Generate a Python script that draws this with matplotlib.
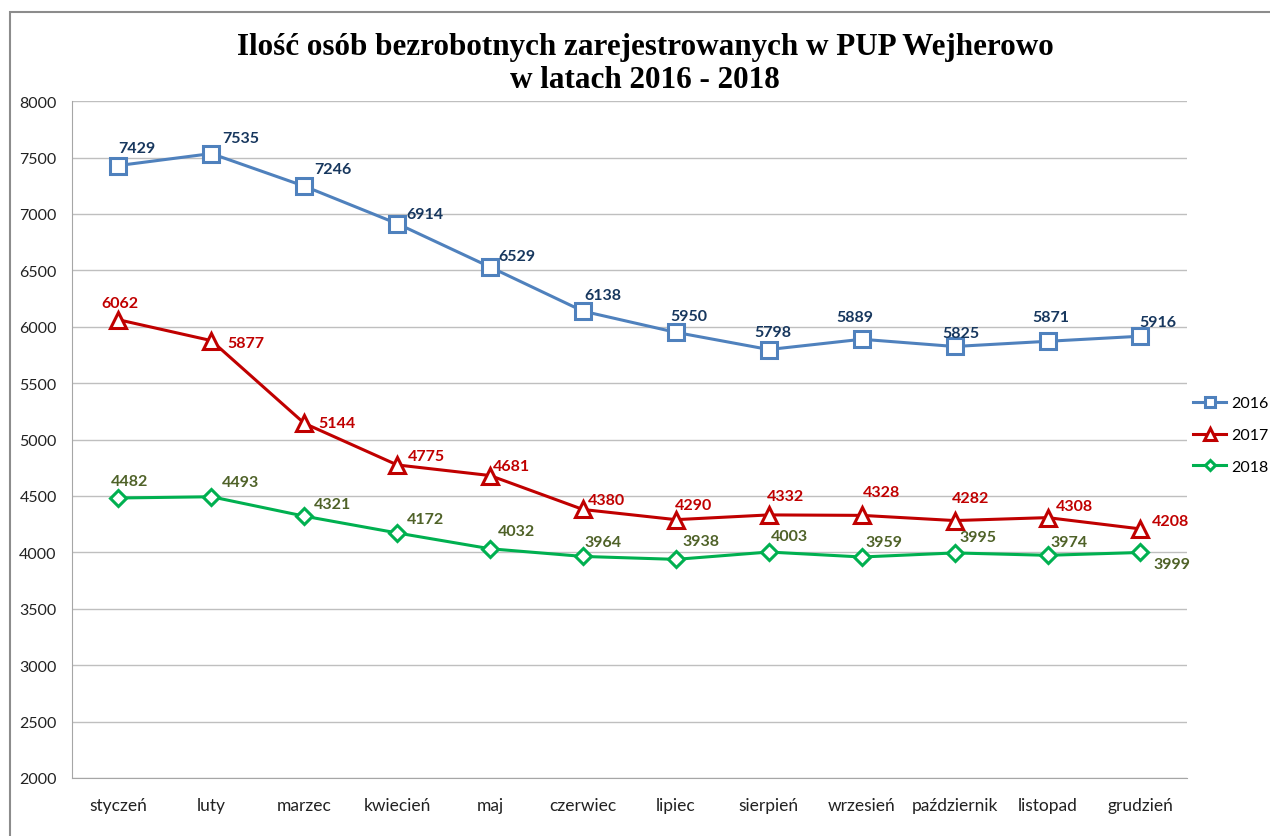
import matplotlib
matplotlib.use("Agg")
import matplotlib.pyplot as plt
from matplotlib.patches import Rectangle

months = ["styczeń", "luty", "marzec", "kwiecień", "maj", "czerwiec",
          "lipiec", "sierpień", "wrzesień", "październik", "listopad", "grudzień"]
y2016 = [7429, 7535, 7246, 6914, 6529, 6138, 5950, 5798, 5889, 5825, 5871, 5916]
y2017 = [6062, 5877, 5144, 4775, 4681, 4380, 4290, 4332, 4328, 4282, 4308, 4208]
y2018 = [4482, 4493, 4321, 4172, 4032, 3964, 3938, 4003, 3959, 3995, 3974, 3999]

# label offsets in pixels (dx, dy up)
off2016 = [(18, 18), (29, 16), (29, 17), (28, 10), (27, 11), (20, 16),
           (13, 16), (4, 18), (-7, 22), (6, 13), (3, 24), (17, 14)]
off2017 = [(1, 17), (34, -2), (33, 0), (29, 9), (21, 10), (23, 9),
           (18, 15), (17, 19), (20, 23), (16, 23), (27, 12), (30, 8)]
off2018 = [(11, 17), (29, 15), (28, 12), (28, 14), (26, 18), (20, 14),
           (25, 18), (21, 16), (22, 15), (23, 16), (21, 13), (31, -12)]

series = [
    ("2016", y2016, off2016, "#4F81BD", "#17375E", "s", 11),
    ("2017", y2017, off2017, "#C00000", "#C00000", "^", 12),
    ("2018", y2018, off2018, "#00B050", "#4F6228", "D", 8),
]

plt.rcParams["font.family"] = ["Lato", "DejaVu Sans"]

fig = plt.figure(figsize=(12.7, 8.37), dpi=100)
ax = fig.add_axes([0.0567, 0.0693, 0.8779, 0.8087])

x = list(range(len(months)))
pt = 72 / 100  # pixels -> points
for name, vals, offs, col, lcol, mk, ms in series:
    ax.plot(x, vals, color=col, lw=2.2, marker=mk, markersize=ms,
            markerfacecolor="white", markeredgecolor=col, markeredgewidth=2.2,
            label=name, zorder=3)
    for xi, v, (dx, dy) in zip(x, vals, offs):
        ax.annotate(str(v), (xi, v), xytext=(dx * pt, dy * pt),
                    textcoords="offset points", ha="center", va="center",
                    fontsize=11.5, fontweight="bold", color=lcol, zorder=4)

ax.set_xlim(-0.5, 11.5)
ax.set_ylim(2000, 8000)
ax.set_yticks(range(2000, 8001, 500))
ax.set_xticks(x)
ax.set_xticklabels(months)
ax.tick_params(axis="both", length=0, colors="#222222")
ax.tick_params(axis="x", pad=14, labelsize=12.5)
ax.tick_params(axis="y", pad=11, labelsize=11.5)
ax.grid(axis="y", color="#BFBFBF", lw=1)
ax.set_axisbelow(True)
for s in ["top", "right"]:
    ax.spines[s].set_visible(False)
for s in ["left", "bottom"]:
    ax.spines[s].set_color("#A6A6A6")

fig.legend(*ax.get_legend_handles_labels(), loc="center left",
           bbox_to_anchor=(1193 / 1270, 0.479), frameon=False,
           fontsize=11.5, handlelength=2.07, labelspacing=1.1,
           handletextpad=0.3, borderpad=0, borderaxespad=0, markerscale=0.7)

title_kw = dict(ha="center", va="center", fontsize=22.4, fontweight="bold",
                family="Liberation Serif")
fig.text(645 / 1270, 1 - 47 / 837,
         "Ilość osób bezrobotnych zarejestrowanych w PUP Wejherowo", **title_kw)
fig.text(645 / 1270, 1 - 80 / 837, "w latach 2016 - 2018", **title_kw)

fig.patches.append(Rectangle((10 / 1270, -0.1), 1.2, 1.1 - 13 / 837,
                             transform=fig.transFigure, fill=False,
                             edgecolor="#8C8C8C", lw=1.5))

fig.savefig("out.png", dpi=100)
